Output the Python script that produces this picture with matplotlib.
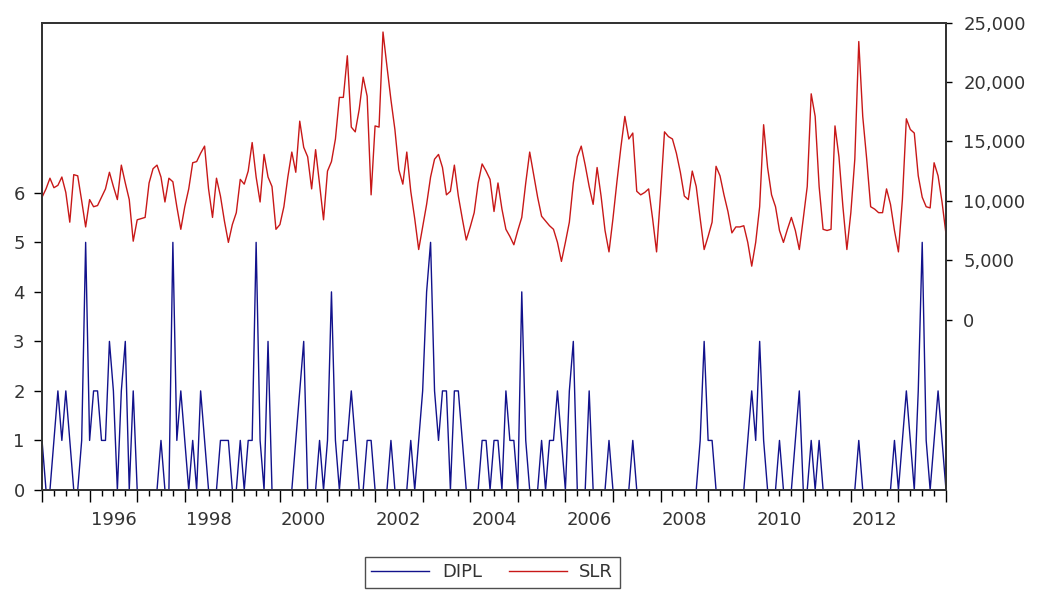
import numpy as np
import matplotlib
matplotlib.use('Agg')
import matplotlib.pyplot as plt
from matplotlib.ticker import FuncFormatter

plt.rcParams['font.family'] = ['DejaVu Sans']

''' dados mensais 1995M01 - 2014M01 '''

start_year = 1995

slr = [10300, 11000, 11900, 11100, 11300, 12000, 10700, 8200, 12200, 12100,
       10000, 7800, 10100, 9500, 9600, 10300, 11000, 12400, 11200, 10100,
       13000, 11500, 10100, 6600, 8400, 8500, 8600, 11500, 12700, 13000,
       12000, 9900, 11900, 11600, 9500, 7600, 9500, 11000, 13200, 13300,
       14000, 14600, 11000, 8600, 11900, 10400, 8300, 6500, 8000, 9000,
       11800, 11400, 12500, 14900, 12000, 9900, 13900, 12000, 11200, 7600,
       8000, 9500, 12000, 14100, 12400, 16700, 14500, 13700, 11000, 14300,
       11400, 8400, 12500, 13300, 15200, 18700, 18700, 22200, 16200, 15800,
       17700, 20400, 18800, 10500, 16300, 16200, 24200, 21300, 18500, 16000,
       12600, 11400, 14100, 10800, 8500, 5900, 7800, 9700, 12000, 13500,
       13900, 12800, 10500, 10800, 13000, 10400, 8500, 6700, 7800, 9000,
       11500, 13100, 12500, 11800, 9100, 11500, 9300, 7600, 7000, 6300,
       7500, 8600, 11500, 14100, 12200, 10300, 8700, 8300, 7900, 7600,
       6500, 4900, 6500, 8200, 11500, 13700, 14600, 13000, 11200, 9700,
       12800, 10400, 7500, 5700, 8500, 11600, 14500, 17100, 15200, 15700,
       10800, 10500, 10700, 11000, 8500, 5700, 10500, 15800, 15400, 15200,
       14000, 12400, 10400, 10100, 12500, 11200, 8500, 5900, 7000, 8200,
       12900, 12100, 10500, 9100, 7300, 7800, 7800, 7900, 6500, 4500,
       6500, 9500, 16400, 12800, 10500, 9500, 7500, 6500, 7600, 8600,
       7500, 5900, 8500, 11200, 19000, 17100, 11200, 7600, 7500, 7600,
       16300, 13700, 9500, 5900, 9000, 13500, 23400, 17100, 13500, 9500,
       9300, 9000, 9000, 11000, 9700, 7500, 5700, 10100, 16900, 16000,
       15700, 12100, 10300, 9500, 9400, 13200, 12100, 9900, 7200]

dipl = [1, 0, 0, 1, 2, 1, 2, 1, 0, 0,
        1, 5, 1, 2, 2, 1, 1, 3, 2, 0,
        2, 3, 0, 2, 0, 0, 0, 0, 0, 0,
        1, 0, 0, 5, 1, 2, 1, 0, 1, 0,
        2, 1, 0, 0, 0, 1, 1, 1, 0, 0,
        1, 0, 1, 1, 5, 1, 0, 3, 0, 0,
        0, 0, 0, 0, 1, 2, 3, 0, 0, 0,
        1, 0, 1, 4, 1, 0, 1, 1, 2, 1,
        0, 0, 1, 1, 0, 0, 0, 0, 1, 0,
        0, 0, 0, 1, 0, 1, 2, 4, 5, 2,
        1, 2, 2, 0, 2, 2, 1, 0, 0, 0,
        0, 1, 1, 0, 1, 1, 0, 2, 1, 1,
        0, 4, 1, 0, 0, 0, 1, 0, 1, 1,
        2, 1, 0, 2, 3, 0, 0, 0, 2, 0,
        0, 0, 0, 1, 0, 0, 0, 0, 0, 1,
        0, 0, 0, 0, 0, 0, 0, 0, 0, 0,
        0, 0, 0, 0, 0, 0, 1, 3, 1, 1,
        0, 0, 0, 0, 0, 0, 0, 0, 1, 2,
        1, 3, 1, 0, 0, 0, 1, 0, 0, 0,
        1, 2, 0, 0, 1, 0, 1, 0, 0, 0,
        0, 0, 0, 0, 0, 0, 1, 0, 0, 0,
        0, 0, 0, 0, 0, 1, 0, 1, 2, 1,
        0, 2, 5, 1, 0, 1, 2, 1, 0]

year_labels = [1996, 1998, 2000, 2002, 2004, 2006, 2008, 2010, 2012]

t = start_year + np.arange(len(slr)) / 12.0    # tempo em anos decimais


''' grafico '''

fig = plt.figure(figsize=(10.43, 5.91), dpi=100)
ax = fig.add_axes([0.0403, 0.171, 0.8667, 0.7909])
ax2 = ax.twinx()

l1, = ax.plot(t, dipl, color='#12128c', lw=1.0, label='DIPL')
l2, = ax2.plot(t, slr, color='#c81818', lw=1.0, label='SLR')

ax.set_xlim(t[0], t[-1])
ax.set_ylim(0, 9.44)
ax.set_yticks(range(7))
ax2.set_ylim(-14330, 25000)
ax2.set_yticks(range(0, 25001, 5000))
ax2.yaxis.set_major_formatter(FuncFormatter(lambda v, p: f'{int(v):,}'))

ax.set_xticks(np.arange(1995, 2015))
ax.set_xticks(np.arange(1995, 2014.01, 0.25), minor=True)
ax.set_xticklabels([])
ax.tick_params(axis='x', which='major', length=8.5, width=1.0, direction='out')
ax.tick_params(axis='x', which='minor', length=4.3, width=1.0, direction='out')
ax.tick_params(axis='y', length=5.5, width=1.0, pad=7, labelsize=13, labelcolor='#333333')
ax2.tick_params(axis='y', length=4.5, width=1.0, pad=8, labelsize=13, labelcolor='#333333')

for yr in year_labels:
    ax.text(yr + 0.5, -0.064, str(yr), transform=ax.get_xaxis_transform(),
            ha='center', va='center', fontsize=13, color='#333333')

for a in (ax, ax2):
    for s in a.spines.values():
        s.set_linewidth(1.3)
        s.set_color('#333333')

leg = fig.legend([l1, l2], ['DIPL', 'SLR'], loc='upper center',
                 bbox_to_anchor=(0.472, 0.0575), ncol=2, fontsize=13,
                 frameon=True, fancybox=False, handlelength=3.2,
                 handletextpad=0.7, columnspacing=1.5, borderpad=0.35,
                 borderaxespad=0.0, labelcolor='#333333')
leg.get_frame().set_edgecolor('#222222')
leg.get_frame().set_linewidth(1.0)

fig.savefig('out.png', dpi=100)
